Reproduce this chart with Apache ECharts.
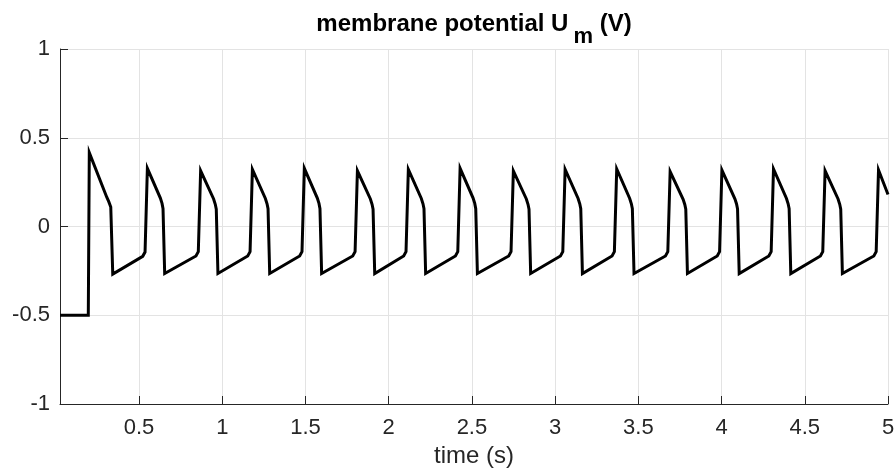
<!DOCTYPE html>
<html>
<head>
    <meta charset="UTF-8">
    <title>membrane potential</title>
    <script src="https://cdn.jsdelivr.net/npm/echarts@6.0.0/dist/echarts.min.js"></script>
    <style>
        html, body { margin: 0; padding: 0; background: #fff; }
        #main { width: 894px; height: 473px; }
    </style>
</head>
<body>
<div id="main"></div>
<script>
    // time (s) and membrane potential (V)
    var timeS = [
        0.025, 0.195,
        0.201, 0.306, 0.318, 0.330, 0.342, 0.522, 0.536,
        0.550, 0.628, 0.638, 0.644, 0.654, 0.842, 0.856,
        0.870, 0.948, 0.958, 0.964, 0.974, 1.153, 1.167,
        1.181, 1.259, 1.269, 1.275, 1.285, 1.465, 1.479,
        1.493, 1.571, 1.581, 1.587, 1.597, 1.784, 1.798,
        1.812, 1.890, 1.900, 1.906, 1.916, 2.090, 2.104,
        2.118, 2.196, 2.206, 2.212, 2.222, 2.401, 2.415,
        2.429, 2.507, 2.517, 2.523, 2.533, 2.721, 2.735,
        2.749, 2.827, 2.837, 2.843, 2.853, 3.032, 3.046,
        3.060, 3.138, 3.148, 3.154, 3.164, 3.342, 3.356,
        3.370, 3.448, 3.458, 3.464, 3.474, 3.663, 3.677,
        3.691, 3.769, 3.779, 3.785, 3.795, 3.974, 3.988,
        4.002, 4.080, 4.090, 4.096, 4.106, 4.284, 4.298,
        4.312, 4.390, 4.400, 4.406, 4.416, 4.594, 4.608,
        4.622, 4.700, 4.710, 4.716, 4.726, 4.915, 4.929,
        4.943, 5.000
    ];
    var membraneV = [
        -0.5, -0.5,
        0.416, 0.165, 0.140, 0.110, -0.268, -0.168, -0.144,
        0.328, 0.160, 0.130, 0.100, -0.265, -0.166, -0.142,
        0.314, 0.155, 0.125, 0.098, -0.265, -0.166, -0.142,
        0.322, 0.158, 0.128, 0.100, -0.265, -0.166, -0.142,
        0.328, 0.160, 0.130, 0.100, -0.265, -0.166, -0.142,
        0.314, 0.155, 0.125, 0.098, -0.265, -0.166, -0.142,
        0.322, 0.158, 0.128, 0.100, -0.265, -0.166, -0.142,
        0.328, 0.160, 0.130, 0.100, -0.265, -0.166, -0.142,
        0.313, 0.155, 0.125, 0.098, -0.265, -0.166, -0.142,
        0.322, 0.158, 0.128, 0.100, -0.265, -0.166, -0.142,
        0.324, 0.158, 0.128, 0.100, -0.265, -0.166, -0.142,
        0.309, 0.153, 0.124, 0.097, -0.265, -0.166, -0.142,
        0.318, 0.156, 0.127, 0.099, -0.265, -0.166, -0.142,
        0.324, 0.158, 0.128, 0.100, -0.265, -0.166, -0.142,
        0.314, 0.155, 0.125, 0.098, -0.265, -0.166, -0.142,
        0.318, 0.180
    ];
    var xTicks = [0.5, 1, 1.5, 2, 2.5, 3, 3.5, 4, 4.5, 5];

    var font = 'Liberation Sans, Arial, Helvetica, sans-serif';
    var axisColor = '#262626';
    var gridColor = '#e3e3e3';

    var seriesData = [];
    for (var i = 0; i < timeS.length; i++) {
        seriesData.push([timeS[i], membraneV[i]]);
    }

    var myChart = echarts.init(document.getElementById('main'));
    myChart.setOption({
        animation: false,
        backgroundColor: '#fff',
        title: {
            text: '{a|membrane potential U}{s|m}{a| (V)}',
            left: 474,
            top: 12,
            padding: 0,
            textAlign: 'center',
            textStyle: {
                rich: {
                    a: {fontFamily: font, fontSize: 24, fontWeight: 'bold', color: '#000',
                        lineHeight: 24, verticalAlign: 'top'},
                    // subscript sits lower: bottom-aligned in a taller line
                    s: {fontFamily: font, fontSize: 22, fontWeight: 'bold', color: '#000',
                        lineHeight: 36, verticalAlign: 'bottom', padding: [0, 0, 0, 5]}
                }
            }
        },
        grid: {left: 60, right: 6, top: 49, bottom: 69, outerBoundsMode: 'none'},
        xAxis: {
            type: 'value',
            min: 0.025,
            max: 5,
            name: 'time (s)',
            nameLocation: 'middle',
            nameGap: 39,
            nameTextStyle: {fontFamily: font, fontSize: 24, color: axisColor},
            axisLine: {show: true, onZero: false, lineStyle: {color: axisColor, width: 1}},
            axisTick: {show: true, inside: true, length: 8, customValues: xTicks,
                lineStyle: {color: axisColor}},
            axisLabel: {customValues: xTicks, fontFamily: font, fontSize: 22,
                color: axisColor, margin: 13},
            splitLine: {show: true, lineStyle: {color: gridColor, width: 1}}
        },
        yAxis: {
            type: 'value',
            min: -1,
            max: 1,
            interval: 0.5,
            axisLine: {show: true, onZero: false, lineStyle: {color: axisColor, width: 1}},
            axisTick: {show: true, inside: true, length: 8, lineStyle: {color: axisColor}},
            axisLabel: {fontFamily: font, fontSize: 22, color: axisColor, margin: 10},
            splitLine: {show: true, lineStyle: {color: gridColor, width: 1}}
        },
        series: [{
            type: 'line',
            data: seriesData,
            showSymbol: false,
            symbol: 'none',
            lineStyle: {color: '#000', width: 3, join: 'miter'},
            clip: true
        }]
    });
</script>
</body>
</html>
